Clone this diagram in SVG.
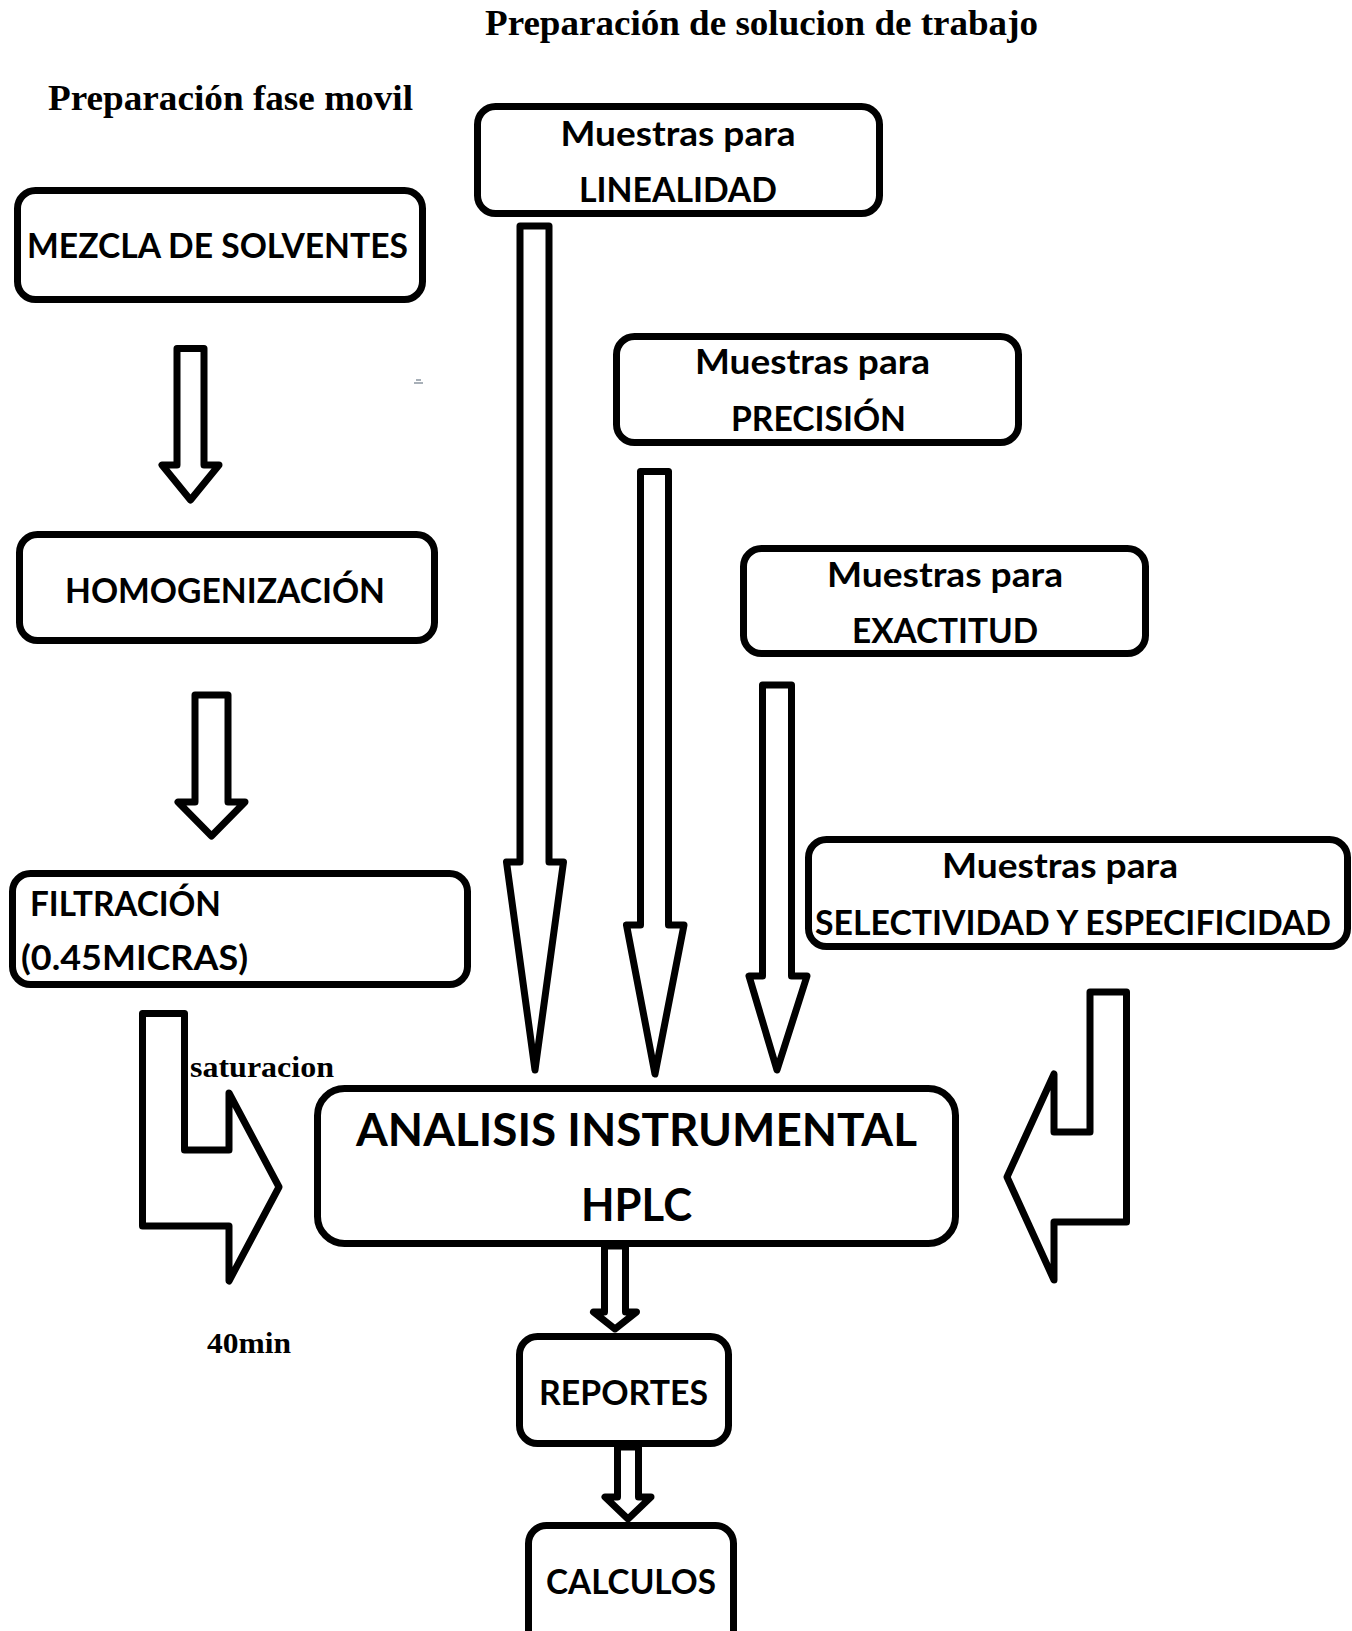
<svg xmlns="http://www.w3.org/2000/svg" width="1352" height="1631" viewBox="0 0 1352 1631">
<style>
.box{fill:#fff;stroke:#000;stroke-width:7}
.arr{fill:#fff;stroke:#000;stroke-width:7;stroke-linejoin:round}
.t{font-family:Lato,"Liberation Sans",sans-serif;font-weight:bold;fill:#000;text-anchor:middle}
.l{text-anchor:start}
.s{font-family:"Liberation Serif","Times New Roman",serif;font-weight:bold;fill:#000}
</style>
<rect width="1352" height="1631" fill="#fff"/>
<text class="s" x="485" y="35" font-size="35" textLength="553" lengthAdjust="spacingAndGlyphs">Preparación de solucion de trabajo</text>
<text class="s" x="48" y="110" font-size="35" textLength="365" lengthAdjust="spacingAndGlyphs">Preparación fase movil</text>
<text class="s" x="190" y="1077" font-size="30" textLength="144" lengthAdjust="spacingAndGlyphs">saturacion</text>
<text class="s" x="207" y="1353" font-size="30" textLength="84" lengthAdjust="spacingAndGlyphs">40min</text>
<path d="M414 383 h9 M416 380 h5" stroke="#a8b0b8" stroke-width="2" fill="none"/>
<g id="connectors">
<polygon class="arr" points="177,348.5 204,348.5 204,465 219,465 190.5,500 162,465 177,465"/>
<polygon class="arr" points="195,695 228,695 228,802 245,802 211.5,836 178,802 195,802"/>
<polygon class="arr" points="520,226 549,226 549,862 563.5,862 535,1070 506.5,862 520,862"/>
<polygon class="arr" points="640.5,471.5 668.5,471.5 668.5,925 684,925 655,1074 626.5,925 640.5,925"/>
<polygon class="arr" points="762.5,685 791.5,685 791.5,976 807,976 777,1070 749,976 762.5,976"/>
<polygon class="arr" points="1090,992 1126.5,992 1126.5,1222 1054,1222 1054,1280 1007,1177 1054,1074 1054,1132 1090,1132"/>
<polygon class="arr" points="142.5,1013.5 184.5,1013.5 184.5,1150 229,1150 229,1093 279,1187 229,1281 229,1226 142.5,1226"/>
<polygon class="arr" points="604.5,1246 625.5,1246 625.5,1312 636.5,1312 615,1329 593.5,1312 604.5,1312"/>
<polygon class="arr" points="617.5,1447 638.5,1447 638.5,1497 651,1497 628,1519 605,1497 617.5,1497"/>
</g>
<g id="mezcla">
<rect class="box" x="17.5" y="190.5" width="405" height="109" rx="18"/>
<text class="t" x="217.5" y="258" font-size="34" textLength="381" lengthAdjust="spacingAndGlyphs">MEZCLA DE SOLVENTES</text>
</g>
<g id="homogenizacion">
<rect class="box" x="19.5" y="534.5" width="415" height="106" rx="18"/>
<text class="t" x="225" y="603" font-size="34" textLength="320" lengthAdjust="spacingAndGlyphs">HOMOGENIZACIÓN</text>
</g>
<g id="filtracion">
<rect class="box" x="12.5" y="873.5" width="455" height="111" rx="18"/>
<text class="t l" x="30" y="916" font-size="34" textLength="191" lengthAdjust="spacingAndGlyphs">FILTRACIÓN</text>
<text class="t l" x="21" y="970" font-size="34" textLength="227" lengthAdjust="spacingAndGlyphs">(0.45MICRAS)</text>
</g>
<g id="linealidad">
<rect class="box" x="477.5" y="106.5" width="402" height="107" rx="18"/>
<text class="t" x="678" y="146" font-size="34" textLength="235" lengthAdjust="spacingAndGlyphs">Muestras para</text>
<text class="t" x="678" y="202" font-size="34" textLength="198" lengthAdjust="spacingAndGlyphs">LINEALIDAD</text>
</g>
<g id="precision">
<rect class="box" x="616.5" y="336.5" width="402" height="106" rx="18"/>
<text class="t" x="812.5" y="374" font-size="34" textLength="235" lengthAdjust="spacingAndGlyphs">Muestras para</text>
<text class="t" x="818.5" y="431" font-size="34" textLength="175" lengthAdjust="spacingAndGlyphs">PRECISIÓN</text>
</g>
<g id="exactitud">
<rect class="box" x="743.5" y="548.5" width="402" height="105" rx="18"/>
<text class="t" x="945" y="587" font-size="34" textLength="236" lengthAdjust="spacingAndGlyphs">Muestras para</text>
<text class="t" x="945" y="643" font-size="34" textLength="186" lengthAdjust="spacingAndGlyphs">EXACTITUD</text>
</g>
<g id="selectividad">
<rect class="box" x="808.5" y="839.5" width="539" height="107" rx="18"/>
<text class="t" x="1060" y="878" font-size="34" textLength="236" lengthAdjust="spacingAndGlyphs">Muestras para</text>
<text class="t" x="1073" y="935" font-size="34" textLength="516" lengthAdjust="spacingAndGlyphs">SELECTIVIDAD Y ESPECIFICIDAD</text>
</g>
<g id="analisis">
<rect class="box" x="317.5" y="1088.5" width="638" height="155" rx="27"/>
<text class="t" x="636.5" y="1146" font-size="45" textLength="561" lengthAdjust="spacingAndGlyphs">ANALISIS INSTRUMENTAL</text>
<text class="t" x="636.5" y="1221" font-size="45" textLength="111" lengthAdjust="spacingAndGlyphs">HPLC</text>
</g>
<g id="reportes">
<rect class="box" x="519.5" y="1336.5" width="209" height="107" rx="18"/>
<text class="t" x="623.5" y="1405" font-size="34" textLength="169" lengthAdjust="spacingAndGlyphs">REPORTES</text>
</g>
<g id="calculos">
<rect class="box" x="528.5" y="1525.5" width="205" height="130" rx="18"/>
<text class="t" x="631" y="1594" font-size="34" textLength="170" lengthAdjust="spacingAndGlyphs">CALCULOS</text>
</g>
</svg>
